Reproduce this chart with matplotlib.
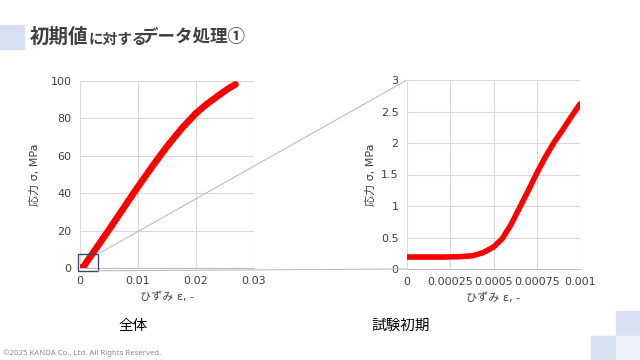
import matplotlib
matplotlib.use("Agg")
import matplotlib.pyplot as plt
from matplotlib.patches import Rectangle, ConnectionPatch

plt.rcParams["font.family"] = ["DejaVu Sans", "Noto Sans CJK JP"]

# whole test: strain / stress (MPa)
strain_all = [0.0, 0.0004, 0.0007, 0.001, 0.002, 0.003, 0.005, 0.0075, 0.01, 0.0125,
              0.015, 0.0175, 0.02, 0.022, 0.024, 0.0255, 0.0268]
stress_all = [0.2, 0.2, 0.9, 2.6, 7.0, 11.5, 20.5, 32.0, 43.5, 54.5,
              65.0, 74.5, 82.8, 88.0, 92.5, 95.8, 98.2]

# initial part of test
strain_init = [0.0, 0.0001, 0.0002, 0.0003, 0.00038, 0.00044, 0.0005, 0.00055, 0.0006,
               0.00065, 0.0007, 0.00075, 0.0008, 0.00085, 0.0009, 0.00095, 0.001]
stress_init = [0.19, 0.19, 0.19, 0.195, 0.21, 0.26, 0.35, 0.48, 0.70,
               0.97, 1.24, 1.52, 1.78, 2.01, 2.21, 2.42, 2.62]

xticks_r = [0, 0.00025, 0.0005, 0.00075, 0.001]
xticklabels_r = ["0", "0.00025", "0.0005", "0.00075", "0.001"]
yticks_r = [0, 0.5, 1, 1.5, 2, 2.5, 3]
yticklabels_r = ["0", "0.5", "1", "1.5", "2", "2.5", "3"]

W, H = 640, 360
fig = plt.figure(figsize=(6.4, 3.6), dpi=100)
fig.patch.set_facecolor("white")


def px(x, y):
    return x / W, 1 - y / H


# decorative squares
for (x0, y0, w, h, c) in [(0, 25, 24, 24, "#d6e0f0"),
                          (616, 311, 24, 25, "#d6e0f0"),
                          (591, 336, 25, 24, "#d6e0f0"),
                          (616, 336, 24, 24, "#eef2f9")]:
    fig.patches.append(Rectangle((x0 / W, 1 - (y0 + h) / H), w / W, h / H,
                                 transform=fig.transFigure, color=c, zorder=0))

# title
title_col = "#404040"
jp = ["Noto Sans CJK JP"]
fig.text(*px(30, 37), "初期値", fontsize=14, fontweight="bold", color=title_col,
         va="center", family=jp)
fig.text(*px(88, 38.5), "に対する", fontsize=10.5, fontweight="bold", color=title_col,
         va="center", family=jp)
fig.text(*px(141, 37), "データ処理①", fontsize=12.6, fontweight="bold", color=title_col,
         va="center", family=jp)

fig.text(*px(3, 353), "©2025 KANDA Co., Ltd. All Rights Reserved.", fontsize=5.6,
         color="#8c8c8c", fontweight="bold", va="center", family=["Noto Sans", "DejaVu Sans"])

fig.text(*px(133, 326), "全体", fontsize=10.5, color="black", ha="center", va="center", family=jp)
fig.text(*px(401, 326), "試験初期", fontsize=10.5, color="black", ha="center", va="center", family=jp)

tick_col = "#404040"
grid_col = "#d9d9d9"


def style(ax):
    for s in ["top", "right", "left"]:
        ax.spines[s].set_visible(False)
    ax.spines["bottom"].set_color("#bfbfbf")
    ax.grid(True, color=grid_col, linewidth=0.8)
    ax.set_axisbelow(True)
    ax.tick_params(length=0, labelsize=8, labelcolor=tick_col, pad=6)
    ax.set_xlabel("ひずみ ε, -", fontsize=8, color=tick_col, labelpad=4)
    ax.set_ylabel("応力 σ, MPa", fontsize=8, color=tick_col, labelpad=4)


axL = fig.add_axes([80 / W, 1 - 268 / H, 174 / W, 187 / H])
axL.plot(strain_all, stress_all, color="#ff0000", linewidth=4.8, solid_capstyle="round",
         zorder=3)
axL.set_xlim(0, 0.03)
axL.set_ylim(0, 100)
axL.set_xticks([0, 0.01, 0.02, 0.03])
axL.set_xticklabels(["0", "0.01", "0.02", "0.03"])
axL.set_yticks([0, 20, 40, 60, 80, 100])
style(axL)
axL.yaxis.labelpad = 8

axR = fig.add_axes([407 / W, 1 - 269 / H, 173 / W, 189 / H])
axR.plot(strain_init, stress_init, color="#ff0000", linewidth=4, solid_capstyle="round",
         zorder=3)
axR.set_xlim(0, 0.001)
axR.set_ylim(0, 3)
axR.set_xticks(xticks_r)
axR.set_xticklabels(xticklabels_r)
axR.set_yticks(yticks_r)
axR.set_yticklabels(yticklabels_r)
style(axR)

# zoom box and connectors
box = Rectangle((-0.0003, -1.5), 0.0034, 9.0, fill=False, edgecolor="#3a4a68",
                linewidth=1.0, clip_on=False, zorder=5)
axL.add_patch(box)
for (yb, yr) in [(7.5, 1.0), (-1.5, 0.0)]:
    con = ConnectionPatch(xyA=(0.0031, yb), coordsA=axL.transData,
                          xyB=(0.0, yr), coordsB=axR.transAxes,
                          color="#bfbfbf", linewidth=0.8, zorder=1)
    fig.add_artist(con)

fig.savefig("out.png", dpi=100, facecolor="white")
